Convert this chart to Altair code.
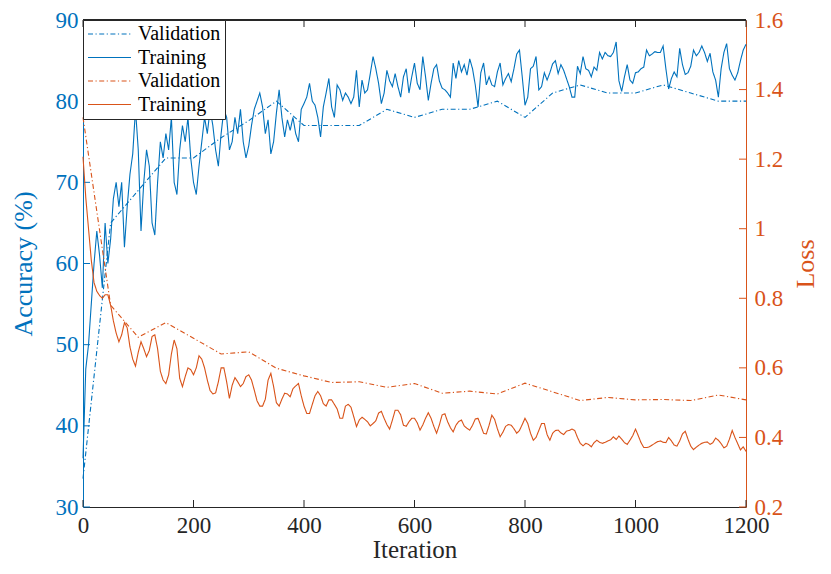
import altair as alt
import pandas as pd

# ---------------- data ----------------
train_iters = list(range(0, 1201, 5))
train_acc = [
    36, 47, 50, 55, 60, 64, 61, 57, 65, 60, 63, 68, 70, 67, 70, 62, 67, 71, 73.5, 79,
    74, 64, 70, 74, 72, 65, 63.5, 70, 75, 73, 76,
    74, 78, 70, 68.5, 74, 77, 75, 78, 73, 70, 68.5, 72, 75, 78, 76, 79, 77, 74, 72, 76,
    79, 78, 74, 75, 78, 76, 79, 75, 73, 74.5,
    77, 79, 80, 81, 79.3, 76, 77.7, 73.5, 75, 78.5,
    81.4, 78, 75.6, 77.7, 76.4, 78, 76, 75, 79, 79.7,
    80.5, 82.2, 80, 79.5, 78, 75.6, 79.3, 81, 82.8, 79.3,
    78, 82, 81.4, 80.1, 81, 80.5, 79.7, 80.5, 83.8, 79.3,
    82.6, 81, 81.4, 83.4, 85.5, 84, 82.2, 79.7, 81, 83.8,
    82.5, 81.8, 83.4, 81.8, 80.5, 83, 84, 81, 83, 84.7,
    82.2,
    81.4, 85.5, 83, 80.1, 82.2, 84, 84.5, 82.5, 81.6, 81.4,
    81, 80.5, 84.7, 82.8, 85, 83.6, 84.5, 83.2, 85.2, 84,
    82, 79.3, 83.5, 84.7, 82, 83, 82, 81.8, 83.6, 84.7,
    82, 82.8, 83.4, 82.4, 84, 85.8, 86.3, 83, 79.5, 80.5,
    84, 84.3, 85.5, 81.4, 81.8, 83.5, 82.6, 83.5, 84.6, 85,
    83.4, 84.5, 83.8, 82.8, 81.8, 80.5, 80.5, 84.3, 83.4, 85.5,
    84, 83.8, 83, 84.2, 83.8, 86, 85.2, 86, 85.6, 85.5,
    86, 87.3, 82.5, 81.2, 83, 84.5, 82.6, 82.2, 83.5, 83.6,
    84, 84.2, 86.3, 85.6, 85.8, 86.1, 86, 86, 86.8, 84,
    81.5, 82.8, 83.6, 83, 86.5, 84.5, 83.3, 83.5, 84.3, 86.3,
    85.6, 86, 86.8, 86, 84.9, 85.9, 83.6, 82.6, 80.5, 84,
    86, 87.1, 84, 83.2, 82.6, 83.5, 85, 86.3, 87,
]
train_loss = [
    1.207, 1.09, 1.0, 0.91, 0.845, 0.82, 0.808, 0.8, 0.81, 0.81,
    0.78, 0.735, 0.7, 0.675, 0.695, 0.73, 0.715, 0.66, 0.625, 0.605,
    0.645, 0.675, 0.655, 0.632, 0.65, 0.69, 0.695, 0.655, 0.59, 0.565,
    0.555, 0.58, 0.64, 0.68, 0.655, 0.57, 0.546, 0.575, 0.6, 0.595,
    0.58, 0.6, 0.635, 0.625, 0.6, 0.565, 0.535, 0.525, 0.528, 0.56,
    0.6, 0.6, 0.56, 0.512, 0.55, 0.572, 0.56, 0.546, 0.555, 0.575,
    0.58, 0.565, 0.536, 0.505, 0.49, 0.49, 0.51, 0.565, 0.584, 0.546,
    0.5, 0.49, 0.51, 0.527, 0.525, 0.517, 0.54, 0.548, 0.555, 0.52,
    0.49, 0.469, 0.469, 0.495, 0.52, 0.532, 0.52, 0.497, 0.49, 0.508,
    0.508, 0.495, 0.482, 0.455, 0.455, 0.49, 0.495, 0.487, 0.46, 0.431,
    0.45, 0.458, 0.452, 0.445, 0.433, 0.44, 0.448, 0.47, 0.475, 0.455,
    0.437, 0.424, 0.45, 0.478, 0.478, 0.465, 0.435, 0.432, 0.445, 0.455,
    0.455, 0.442, 0.421, 0.436, 0.455, 0.471, 0.455, 0.432, 0.412, 0.436,
    0.465, 0.468, 0.445, 0.428, 0.416, 0.435, 0.446, 0.45, 0.433, 0.426,
    0.421, 0.435, 0.453, 0.455, 0.434, 0.412, 0.41, 0.435, 0.464, 0.452,
    0.425, 0.402, 0.415, 0.432, 0.437, 0.435, 0.425, 0.412, 0.42, 0.437,
    0.455, 0.44, 0.412, 0.392, 0.4, 0.42, 0.44, 0.44, 0.408, 0.392,
    0.412, 0.42, 0.421, 0.413, 0.408, 0.418, 0.42, 0.424, 0.42, 0.4,
    0.383, 0.376, 0.383, 0.38, 0.373, 0.385, 0.392, 0.386, 0.383, 0.386,
    0.39, 0.393, 0.402, 0.394, 0.404, 0.395, 0.385, 0.38, 0.392, 0.405,
    0.424, 0.405, 0.385, 0.371, 0.371, 0.373, 0.378, 0.383, 0.388, 0.39,
    0.386, 0.385, 0.4, 0.39, 0.378, 0.375, 0.39, 0.41, 0.418, 0.395,
    0.375, 0.365, 0.372, 0.378, 0.383, 0.386, 0.387, 0.38, 0.385, 0.398,
    0.392, 0.382, 0.37, 0.375, 0.395, 0.42, 0.4, 0.382, 0.364, 0.373,
    0.36,
]
val_iters = list(range(0, 1201, 50))
val_acc = [33.5, 65, 69, 73, 73, 75.5, 77.6, 80, 77, 77, 77, 79, 78, 79, 79,
           80, 78, 81, 82, 81, 81, 82, 81, 80, 80]
val_loss = [1.32, 0.78, 0.688, 0.73, 0.685, 0.64, 0.646, 0.599, 0.577, 0.558,
            0.56, 0.544, 0.555, 0.527, 0.533, 0.525, 0.556, 0.531, 0.506, 0.515,
            0.508, 0.509, 0.506, 0.522, 0.508]

x_ticks = [0, 200, 400, 600, 800, 1000, 1200]
acc_ticks = [30, 40, 50, 60, 70, 80, 90]
loss_ticks = [0.2, 0.4, 0.6, 0.8, 1, 1.2, 1.4, 1.6]
series_names = ["acc_val", "acc_train", "loss_val", "loss_train"]

# ---------------- tables ----------------
acc_df = pd.concat([
    pd.DataFrame({"it": train_iters, "acc": train_acc, "series": "acc_train"}),
    pd.DataFrame({"it": val_iters, "acc": val_acc, "series": "acc_val"}),
])
loss_df = pd.concat([
    pd.DataFrame({"it": train_iters, "loss": train_loss, "series": "loss_train"}),
    pd.DataFrame({"it": val_iters, "loss": val_loss, "series": "loss_val"}),
])
xt_df = pd.DataFrame({"it": x_ticks})
acc_t_df = pd.DataFrame({"acc": acc_ticks})
loss_t_df = pd.DataFrame({"loss": loss_ticks})

# ---------------- style ----------------
BLUE = "#0072BD"
ORANGE = "#D95319"
DARK = "#262626"
FONT = "Liberation Serif"
W, H = 663, 487
TICK = 7
DASHDOT = [5, 2.5, 1.2, 2.5]
LABEL_SIZE = 23
TITLE_SIZE = 26

color_scale = alt.Scale(domain=series_names, range=[BLUE, BLUE, ORANGE, ORANGE])
dash_scale = alt.Scale(domain=series_names, range=[DASHDOT, [1, 0], DASHDOT, [1, 0]])

legend = alt.Legend(
    orient="none", legendX=0, legendY=0, title=None,
    fillColor="white", strokeColor=DARK, padding=4, cornerRadius=0,
    symbolType="stroke", symbolSize=1849, symbolStrokeWidth=1.2,
    labelFont=FONT, labelFontSize=20, labelColor="black", labelOffset=6,
    clipHeight=20, rowPadding=3.5,
    labelExpr="indexof(datum.value, 'val') >= 0 ? 'Validation' : 'Training'",
)

X = alt.X(
    "it:Q",
    scale=alt.Scale(domain=[0, 1200], nice=False, zero=False),
    axis=alt.Axis(values=x_ticks, format="d", title="Iteration", ticks=False,
                  grid=False, domainColor=DARK, labelColor=DARK, titleColor=DARK,
                  labelFont=FONT, titleFont=FONT, labelFontSize=LABEL_SIZE,
                  titleFontSize=25, titleFontWeight="normal",
                  labelFlush=False, labelPadding=7, titlePadding=0),
)
Y_acc = alt.Y(
    "acc:Q",
    scale=alt.Scale(domain=[30, 90], nice=False, zero=False),
    axis=alt.Axis(values=acc_ticks, format="d", title="Accuracy (%)", orient="left",
                  ticks=False, grid=False, domainColor=BLUE, labelColor=BLUE,
                  titleColor=BLUE, labelFont=FONT, titleFont=FONT,
                  labelFontSize=LABEL_SIZE, titleFontSize=TITLE_SIZE,
                  titleFontWeight="normal", labelFlush=False, labelPadding=5,
                  titlePadding=19),
)
Y_loss = alt.Y(
    "loss:Q",
    scale=alt.Scale(domain=[0.2, 1.6], nice=False, zero=False),
    axis=alt.Axis(values=loss_ticks, format="~g", title="Loss", orient="right",
                  ticks=False, grid=False, domainColor=ORANGE, labelColor=ORANGE,
                  titleColor=ORANGE, labelFont=FONT, titleFont=FONT,
                  labelFontSize=LABEL_SIZE, titleFontSize=TITLE_SIZE,
                  titleFontWeight="normal", labelFlush=False, labelPadding=8,
                  titlePadding=10, titleAngle=270, titleBaseline="top"),
)

acc_lines = alt.Chart(acc_df).mark_line(strokeWidth=1.1).encode(
    x=X, y=Y_acc,
    color=alt.Color("series:N", scale=color_scale, legend=legend),
    strokeDash=alt.StrokeDash("series:N", scale=dash_scale, legend=legend),
)
acc_ticks_l = alt.Chart(acc_t_df).mark_rule(color=BLUE, strokeWidth=1).encode(
    y=Y_acc, x=alt.value(0), x2=alt.value(TICK)
)
loss_lines = alt.Chart(loss_df).mark_line(strokeWidth=1.1).encode(
    x=X, y=Y_loss,
    color=alt.Color("series:N", scale=color_scale, legend=legend),
    strokeDash=alt.StrokeDash("series:N", scale=dash_scale, legend=legend),
)
loss_ticks_l = alt.Chart(loss_t_df).mark_rule(color=ORANGE, strokeWidth=1).encode(
    y=Y_loss, x=alt.value(W - TICK), x2=alt.value(W)
)

top_ticks = alt.Chart(xt_df).mark_rule(color=DARK, strokeWidth=1).encode(
    x=X, y=alt.value(0), y2=alt.value(TICK)
)
bottom_ticks = alt.Chart(xt_df).mark_rule(color=DARK, strokeWidth=1).encode(
    x=X, y=alt.value(H - TICK), y2=alt.value(H)
)
top_frame = alt.Chart(xt_df).mark_rule(color=DARK, strokeWidth=1).encode(
    x=alt.value(0), x2=alt.value(W), y=alt.value(0)
)

chart = alt.layer(
    alt.layer(acc_lines, acc_ticks_l),
    alt.layer(loss_lines, loss_ticks_l),
    top_ticks, bottom_ticks, top_frame,
).resolve_scale(y="independent").properties(
    width=W, height=H,
    autosize=alt.AutoSizeParams(type="none"),
    padding={"left": 75, "top": 12, "right": 77, "bottom": 56},
).configure(
    background="white", font=FONT
).configure_view(
    stroke=None
).configure_axis(
    labelFont=FONT, titleFont=FONT
).configure_legend(
    labelFont=FONT
)

chart.save("out.html", embed_options={"renderer": "svg", "actions": False})
